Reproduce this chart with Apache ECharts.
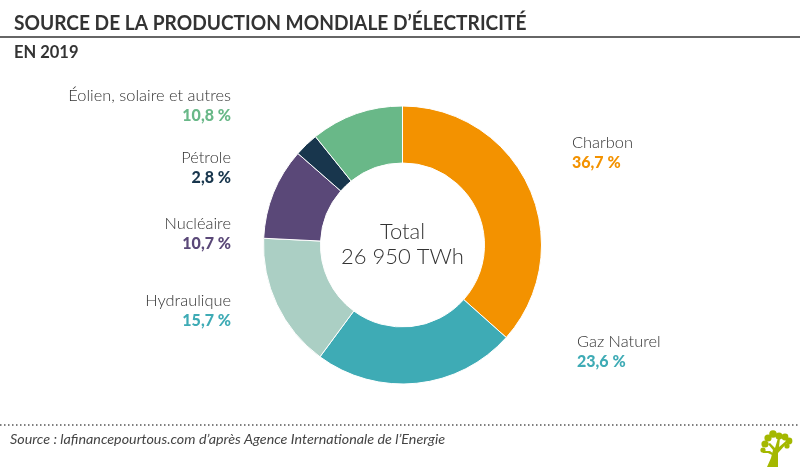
<!DOCTYPE html>
<html>
<head>
<meta charset="utf-8">
<style>html,body{margin:0;padding:0;background:#fff}#chart{width:800px;height:467px}</style>
<script src="https://cdn.jsdelivr.net/npm/echarts@6/dist/echarts.min.js"></script>
</head>
<body>
<div id="chart"></div>
<script>
// données
const categories = ['Charbon', 'Gaz Naturel', 'Hydraulique', 'Nucléaire', 'Pétrole', 'Éolien, solaire et autres'];
const values = [36.7, 23.6, 15.7, 10.7, 2.8, 10.8];
const colors = ['#f39200', '#3eabb5', '#abcfc4', '#5a4878', '#18364d', '#69b888'];
const valueColors = ['#f39200', '#3eabb5', '#3eabb5', '#5a4878', '#18364d', '#69b888'];
const totalLines = ['Total', '26 950 TWh'];

const fontName = 'Lato';
// position des étiquettes : [x, y du nom, alignement]
const labelPlaces = [
  [572, 133, 'left'], [577, 332, 'left'], [231, 291, 'right'],
  [231, 214, 'right'], [231, 148, 'right'], [231, 86, 'right']
];

function valueText(v) {
  return v.toFixed(1).replace('.', ',') + ' %';
}

function labelText(i) {
  return {
    type: 'text',
    style: {
      x: labelPlaces[i][0],
      y: labelPlaces[i][1],
      align: labelPlaces[i][2],
      verticalAlign: 'top',
      rich: {
        n: { fontFamily: fontName, fontSize: 16.4, fontWeight: 300, fill: '#333', lineHeight: 20, align: labelPlaces[i][2] },
        v: { fontFamily: fontName, fontSize: 16, fontWeight: 900, fill: valueColors[i], lineHeight: 19, align: labelPlaces[i][2] }
      },
      text: '{n|' + categories[i] + '}\n{v|' + valueText(values[i]) + '}'
    }
  };
}

// petit arbre du logo
function logo() {
  const leaves = [[765, 444, 3.6], [768, 438, 3.6], [773, 434, 3.8], [779, 436, 3.6], [785, 437, 3.4], [789, 441, 3.4], [787, 446, 2.6], [763, 450, 2.6]];
  const shapes = leaves.map(function (l) {
    return { type: 'circle', shape: { cx: l[0], cy: l[1], r: l[2] }, style: { fill: '#a4b800' } };
  });
  shapes.push({ type: 'polygon', shape: { points: [[767, 467], [771, 458], [773, 450], [768, 444], [770, 443], [775, 448], [778, 438], [780, 438], [779, 447], [786, 441], [787, 443], [778, 453], [778, 467]] }, style: { fill: '#a4b800' } });
  shapes.push({ type: 'polygon', shape: { points: [[762, 451], [770, 451], [774, 454], [772, 455], [768, 453], [763, 453]] }, style: { fill: '#a4b800' } });
  return shapes;
}

var myChart = echarts.init(document.getElementById('chart'), null, { renderer: 'canvas' });

myChart.setOption({
  animation: false,
  backgroundColor: '#fff',
  title: [
    {
      text: 'Source : lafinancepourtous.com d’après Agence Internationale de l’Energie',
      left: 10, top: 432, padding: 0,
      textStyle: { fontFamily: fontName, fontSize: 14.3, fontStyle: 'italic', fontWeight: 400, color: '#444' }
    },
    {
      text: totalLines.join('\n'),
      left: 402.5, top: 219, padding: 0,
      textAlign: 'center',
      textStyle: { fontFamily: fontName, fontSize: 22, fontWeight: 300, color: '#333', lineHeight: 25 }
    }
  ],
  series: [
    {
      type: 'pie',
      center: [402.5, 245],
      radius: [82, 139],
      startAngle: 90,
      clockwise: true,
      silent: true,
      label: { show: false },
      itemStyle: { borderColor: '#fff', borderWidth: 1 },
      data: categories.map(function (name, i) {
        return { name: name, value: values[i], itemStyle: { color: colors[i] } };
      })
    }
  ],
  graphic: [
    { type: 'line', shape: { x1: 0, y1: 37, x2: 800, y2: 37 }, style: { stroke: '#666', lineWidth: 2 } },
    { type: 'line', shape: { x1: 0, y1: 425, x2: 800, y2: 425 }, style: { stroke: '#555', lineWidth: 1.5, lineDash: [1.5, 2.5] } },
    {
      type: 'text', x: 14, y: 14, scaleX: 0.957,
      style: { text: 'SOURCE DE LA PRODUCTION MONDIALE D’ÉLECTRICITÉ', fontFamily: fontName, fontSize: 20, fontWeight: 700, fill: '#333' }
    },
    {
      type: 'text', x: 14, y: 44,
      style: { text: 'EN 2019', fontFamily: fontName, fontSize: 16.5, fontWeight: 700, fill: '#333' }
    }
  ].concat(categories.map(function (c, i) { return labelText(i); })).concat(logo())
});

window.addEventListener('resize', function () {
  myChart.resize();
});
</script>
</body>
</html>
